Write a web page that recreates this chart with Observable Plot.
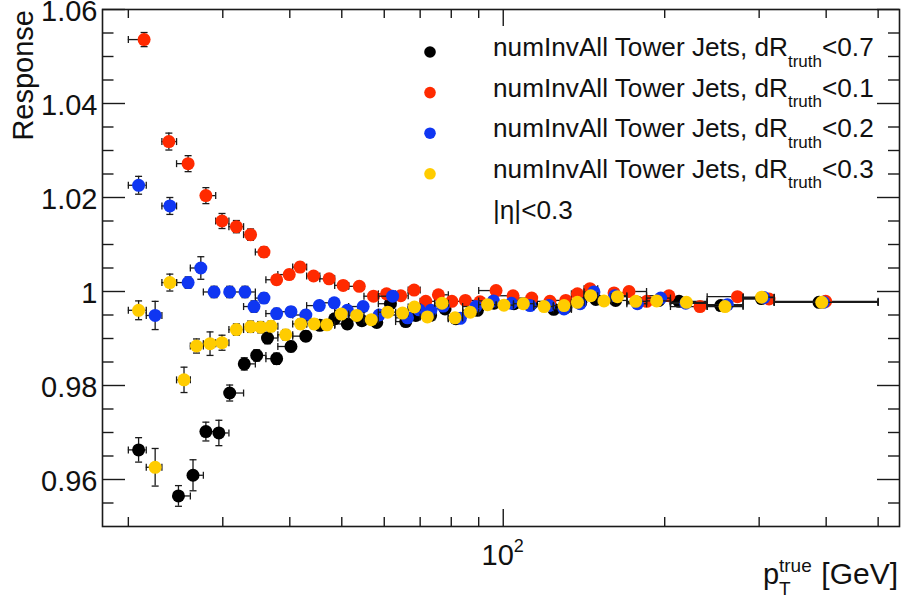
<!DOCTYPE html>
<html><head><meta charset="utf-8">
<script src="https://cdn.jsdelivr.net/npm/d3@7"></script>
<script src="https://cdn.jsdelivr.net/npm/@observablehq/plot@0.6"></script>
<style>
body{margin:0;background:#fff;}
svg{font-family:"Liberation Sans",Arial,Helvetica,sans-serif;}
</style>
</head><body><div id="chart"></div>
<script>
// ---- data: [pT mean (GeV), response, y error] ----
const seriesCuts = ["<0.7", "<0.1", "<0.2", "<0.3"];
const seriesPrefix = "numInvAll Tower Jets, dR";
const etaLabel = "|η|<0.3";

const black07 = [
  [20.9,0.9663,0.0026],[24.8,0.9565,0.0022],[26.4,0.9609,0.0033],[27.9,0.9702,0.0020],
  [29.5,0.9699,0.0027],[30.9,0.9784,0.0017],[32.9,0.9846,0.0013],[34.7,0.9864,0.0012],
  [36.35,0.9901,0.0012],[37.8,0.9857,0.0012],[40.2,0.9883,0.0011],[42.85,0.9905,0.0011],
  [45.5,0.9928,0.0010],[48.5,0.9942,0.0010],[51.2,0.9931,0.0010],[54.5,0.9938,0.0009],
  [58.1,0.9934,0.0009],[61.6,0.9974,0.0009],[65.8,0.9936,0.0009],[68.7,0.9949,0.0008],
  [73.2,0.9949,0.0008],[77.9,0.9963,0.0008],[81.6,0.9942,0.0008],[89.5,0.9960,0.0007],
  [96.1,0.9975,0.0007],[104.7,0.9974,0.0007],[113,0.9974,0.0007],[124.2,0.9962,0.0007],
  [130.8,0.9966,0.0007],[139.5,0.9977,0.0007],[148.8,0.9983,0.0007],[162,0.9981,0.0007],
  [178,0.9977,0.0007],[195,0.9981,0.0007],[212.7,0.9979,0.0007],[254.4,0.9970,0.0007],
  [303,0.9985,0.0007],[387.9,0.9977,0.0007]
];
const red01 = [
  [21.4,1.0536,0.0015],[23.8,1.0319,0.0018],[25.85,1.0272,0.0017],[27.9,1.0204,0.0017],
  [29.9,1.0150,0.0016],[31.8,1.0138,0.0013],[33.8,1.0121,0.0012],[35.8,1.0084,0.0011],
  [37.8,1.0025,0.0010],[39.9,1.0036,0.0010],[41.8,1.0052,0.0010],[44.3,1.0033,0.0009],
  [47.35,1.0027,0.0009],[50.3,1.0013,0.0009],[53.9,1.0011,0.0009],[57.3,0.9990,0.0008],
  [60.6,0.9995,0.0008],[64.4,0.9991,0.0008],[68.2,1.0003,0.0008],[71.7,0.9979,0.0008],
  [75.7,0.9993,0.0008],[80.2,0.9979,0.0008],[85.0,0.9981,0.0007],[90.5,0.9978,0.0007],
  [96.96,1.0002,0.0007],[104.3,0.9991,0.0007],[113.0,0.9986,0.0007],[122.2,0.9979,0.0007],
  [130.8,0.9981,0.0007],[137.5,0.9995,0.0007],[145.1,1.0006,0.0007],[160.9,0.9997,0.0007],
  [171.6,1.0000,0.0007],[185.1,0.9979,0.0007],[203.7,0.9991,0.0007],[232.7,0.9968,0.0007],
  [273.3,0.9989,0.0007],[313.0,0.9984,0.0007],[399.1,0.9979,0.0007]
];
const blue02 = [
  [20.9,1.0226,0.0019],[22.44,0.9949,0.0030],[23.9,1.0182,0.0018],[25.85,1.0019,0.0012],
  [27.3,1.0050,0.0024],[28.9,0.9999,0.0012],[30.9,0.9999,0.0012],[33.0,0.9999,0.0012],
  [34.3,0.9968,0.0012],[35.8,0.9986,0.0011],[37.8,0.9953,0.0011],[40.2,0.9957,0.0010],
  [42.85,0.9950,0.0010],[45.4,0.9970,0.0009],[48.4,0.9976,0.0009],[51.2,0.9960,0.0009],
  [54.8,0.9968,0.0009],[58.7,0.9950,0.0008],[62.2,0.9990,0.0008],[66.3,0.9944,0.0008],
  [69.7,0.9961,0.0008],[73.3,0.9960,0.0008],[77.3,0.9969,0.0008],[83.2,0.9943,0.0007],
  [88.9,0.9968,0.0007],[95.9,0.9980,0.0007],[103.6,0.9975,0.0007],[112.2,0.9970,0.0007],
  [121.7,0.9970,0.0007],[129.8,0.9963,0.0007],[139.1,0.9974,0.0007],[147.6,0.9999,0.0007],
  [161.4,0.9991,0.0007],[177.9,0.9974,0.0007],[196.6,0.9986,0.0007],[218.9,0.9975,0.0007],
  [261.8,0.9972,0.0007],[306.2,0.9987,0.0007],[395.3,0.9977,0.0007]
];
const yellow03 = [
  [20.9,0.9960,0.0020],[22.44,0.9626,0.0040],[23.9,1.0019,0.0018],[25.4,0.9812,0.0027],
  [26.8,0.9884,0.0015],[28.4,0.9889,0.0025],[29.9,0.9891,0.0016],[31.8,0.9919,0.0012],
  [33.8,0.9925,0.0012],[35.3,0.9924,0.0012],[36.9,0.9926,0.0011],[39.3,0.9908,0.0011],
  [41.9,0.9931,0.0010],[44.4,0.9931,0.0010],[46.9,0.9929,0.0009],[49.9,0.9952,0.0009],
  [53.3,0.9949,0.0009],[56.75,0.9940,0.0009],[60.9,0.9956,0.0008],[64.9,0.9954,0.0008],
  [68.3,0.9967,0.0008],[72.2,0.9946,0.0008],[76.9,0.9975,0.0008],[81.3,0.9944,0.0008],
  [86.8,0.9956,0.0007],[93.5,0.9972,0.0007],[100.3,0.9971,0.0007],[109.0,0.9974,0.0007],
  [119.2,0.9968,0.0007],[129.8,0.9970,0.0007],[137.5,0.9977,0.0007],[145.6,0.9991,0.0007],
  [154.1,0.9980,0.0007],[163.3,0.9989,0.0007],[176.6,0.9979,0.0007],[193.2,0.9980,0.0007],
  [219.5,0.9977,0.0007],[259.1,0.9968,0.0007],[303.2,0.9988,0.0007],[392.5,0.9977,0.0007]
];
// pT bin edges (horizontal error bars)
const binEdges = [20,21.6,23.1,24.6,26.1,27.6,29.1,30.8,32.8,34.5,36.1,38,40.5,43,45.5,48.5,51.5,55,58.5,63,66.5,70,74.5,79,84,90,97,104.5,114,124,134,141.5,150,159,170,185,205,240,280,320,500];

// axis ticks
const yMajor = [0.96,0.98,1.00,1.02,1.04,1.06];
const yMajorLabels = ["0.96","0.98","1","1.02","1.04","1.06"];
const yMinor = [0.955,0.965,0.97,0.975,0.985,0.99,0.995,1.005,1.01,1.015,1.025,1.03,1.035,1.045,1.05,1.055];
const xMajor = [100];
const xMinor = [20,30,40,50,60,70,80,90,200,300,400,500];
const xDomain = [17.9, 548];
const yDomain = [0.95, 1.06];

// ---- styles / layout ----
const colors = ["#000000", "#ff2a00", "#0f36f2", "#ffcc00"];
const W = 903, H = 598, mL = 102, mR = 4, mT = 9, mB = 72;
const fw = W - mL - mR, fh = H - mT - mB;
const ink = "#1a1a1a";

const rows = [];
[black07, red01, blue02, yellow03].forEach((arr, s) => arr.forEach(([x, y, ey]) => {
  let k = 0;
  while (k < binEdges.length - 2 && x >= binEdges[k + 1]) k++;
  rows.push({s, x, y, ylo: y - ey, yhi: y + ey, xlo: binEdges[k], xhi: binEdges[k + 1]});
}));

const capV = {draw(ctx, size) { const r = Math.sqrt(size / Math.PI); ctx.moveTo(0, -r); ctx.lineTo(0, r); }};
const capH = {draw(ctx, size) { const r = Math.sqrt(size / Math.PI); ctx.moveTo(-r, 0); ctx.lineTo(r, 0); }};
const eb = {stroke: ink, strokeWidth: 1.3};

const seriesMarks = [0, 1, 2, 3].flatMap(s => {
  const d = rows.filter(r => r.s === s);
  return [
    Plot.ruleY(d, {y: "y", x1: "xlo", x2: "xhi", ...eb}),
    Plot.ruleX(d, {x: "x", y1: "ylo", y2: "yhi", ...eb}),
    Plot.dot(d, {x: "xlo", y: "y", symbol: capV, r: 3.5, fill: "none", ...eb}),
    Plot.dot(d, {x: "xhi", y: "y", symbol: capV, r: 3.5, fill: "none", ...eb}),
    Plot.dot(d, {x: "x", y: "ylo", symbol: capH, r: 3.5, fill: "none", ...eb}),
    Plot.dot(d, {x: "x", y: "yhi", symbol: capH, r: 3.5, fill: "none", ...eb}),
    Plot.dot(d, {x: "x", y: "y", r: 6.5, fill: colors[s], stroke: "none"})
  ];
});

const tk = {stroke: ink, strokeWidth: 1.4};
const plot = Plot.plot({
  width: W, height: H,
  marginLeft: mL, marginRight: mR, marginTop: mT, marginBottom: mB,
  x: {type: "log", domain: xDomain, axis: null},
  y: {domain: yDomain, axis: null},
  style: {background: "#fff", fontFamily: '"Liberation Sans", Arial, sans-serif'},
  marks: [
    Plot.tickY(yMajor, {y: d => d, insetRight: fw - 23, ...tk}),
    Plot.tickY(yMinor, {y: d => d, insetRight: fw - 11.5, ...tk}),
    Plot.tickY(yMajor, {y: d => d, insetLeft: fw - 22, ...tk}),
    Plot.tickY(yMinor, {y: d => d, insetLeft: fw - 11, ...tk}),
    Plot.tickX(xMajor, {x: d => d, insetTop: fh - 17, ...tk}),
    Plot.tickX(xMinor, {x: d => d, insetTop: fh - 9, ...tk}),
    Plot.tickX(xMajor, {x: d => d, insetBottom: fh - 17, ...tk}),
    Plot.tickX(xMinor, {x: d => d, insetBottom: fh - 9, ...tk}),
    Plot.text(yMajor, {y: d => d, frameAnchor: "left", dx: -5, dy: 2, textAnchor: "end",
      text: (d, i) => yMajorLabels[i], fontSize: 29, fill: "#111"}),
    ...seriesMarks,
    Plot.frame({stroke: ink, strokeWidth: 1.6})
  ]
});

document.getElementById("chart").appendChild(plot);
const svg = d3.select(plot);
const xs = plot.scale("x");

// x tick label 10^2
const t10 = svg.append("text").attr("x", xs.apply(100)).attr("y", 565)
  .attr("text-anchor", "middle").attr("font-size", 29).attr("fill", "#111");
t10.append("tspan").text("10");
t10.append("tspan").attr("dy", -13).attr("font-size", 18).text("2");

// y title
svg.append("text").attr("transform", "translate(33,10) rotate(-90)")
  .attr("text-anchor", "end").attr("font-size", 29).attr("fill", "#111").text("Response");

// x title
const xt = svg.append("g").attr("text-anchor", "start").attr("fill", "#111");
xt.append("text").attr("x", 763).attr("y", 584).attr("font-size", 29).text("p");
xt.append("text").attr("x", 779).attr("y", 572).attr("font-size", 19).text("true");
xt.append("text").attr("x", 779).attr("y", 595).attr("font-size", 19).text("T");
xt.append("text").attr("x", 898).attr("y", 584).attr("text-anchor", "end").attr("font-size", 30).text("[GeV]");

// legend
const lg = svg.append("g").attr("text-anchor", "start");
seriesCuts.forEach((cut, i) => {
  const cy = 52 + i * 40.6;
  lg.append("circle").attr("cx", 430).attr("cy", cy).attr("r", 5.8).attr("fill", colors[i]);
  const t = lg.append("text").attr("x", 493).attr("y", cy + 4).attr("font-size", 26.2).attr("fill", "#111");
  t.append("tspan").text(seriesPrefix);
  t.append("tspan").attr("dy", 10.5).attr("font-size", 17).text("truth");
  t.append("tspan").attr("dy", -10.5).text(cut);
});
lg.append("text").attr("x", 493).attr("y", 219).attr("font-size", 26.2).attr("fill", "#111").text(etaLabel);
</script></body></html>
